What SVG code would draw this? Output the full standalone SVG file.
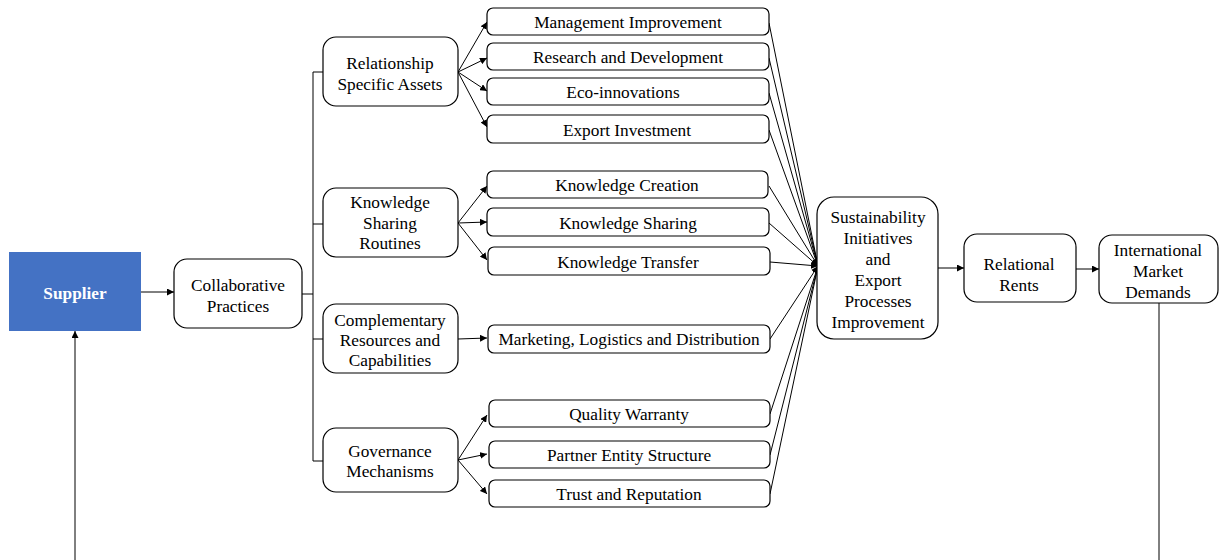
<svg xmlns="http://www.w3.org/2000/svg" width="1219" height="560" viewBox="0 0 1219 560">
  <style>
    .box { fill: #ffffff; stroke: #000000; stroke-width: 1.2; }
    .t { font-family: "Liberation Serif", "Times New Roman", serif; font-size: 17.3px; fill: #000000; text-anchor: middle; dominant-baseline: central; }
    .tw { font-family: "Liberation Serif", "Times New Roman", serif; font-size: 17.3px; font-weight: bold; fill: #ffffff; text-anchor: middle; dominant-baseline: central; }
    .ln { fill: none; stroke: #000000; stroke-width: 1; }
    .ar { fill: none; stroke: #000000; stroke-width: 1; marker-end: url(#head); }
  </style>
  <defs>
    <marker id="head" viewBox="0 0 10 10" refX="10" refY="5" markerWidth="7" markerHeight="7" markerUnits="userSpaceOnUse" orient="auto">
      <path d="M0,0 L10,5 L0,10 z" fill="#000000"/>
    </marker>
  </defs>
  <rect width="1219" height="560" fill="#ffffff"/>

  <g id="connectors">
    <!-- supplier to collaborative practices -->
    <line class="ar" x1="141" y1="292" x2="174" y2="292"/>
    <!-- trunk -->
    <path class="ln" d="M302,294 H313 M313,72 V461 M313,72 H323 M313,224 H323 M313,339 H323 M313,461 H323"/>
    <!-- relationship specific assets -->
    <line class="ar" x1="458" y1="72" x2="487" y2="22"/>
    <line class="ar" x1="458" y1="72" x2="487" y2="58"/>
    <line class="ar" x1="458" y1="72" x2="487" y2="91"/>
    <line class="ar" x1="458" y1="72" x2="487" y2="127"/>
    <!-- knowledge sharing routines -->
    <line class="ar" x1="458" y1="223" x2="487" y2="186"/>
    <line class="ar" x1="458" y1="223" x2="487" y2="222"/>
    <line class="ar" x1="458" y1="223" x2="487" y2="260"/>
    <!-- complementary resources -->
    <line class="ar" x1="458" y1="339" x2="487" y2="338"/>
    <!-- governance mechanisms -->
    <line class="ar" x1="458" y1="460" x2="487" y2="415"/>
    <line class="ar" x1="458" y1="460" x2="487" y2="454"/>
    <line class="ar" x1="458" y1="460" x2="487" y2="494"/>
    <!-- convergence on sustainability initiatives -->
    <line class="ar" x1="769" y1="23" x2="818" y2="266"/>
    <line class="ar" x1="769" y1="58" x2="818" y2="266"/>
    <line class="ar" x1="769" y1="93" x2="818" y2="266"/>
    <line class="ar" x1="769" y1="130" x2="818" y2="266"/>
    <line class="ar" x1="769" y1="186" x2="818" y2="266"/>
    <line class="ar" x1="769" y1="223" x2="818" y2="266"/>
    <line class="ar" x1="770" y1="262" x2="818" y2="266"/>
    <line class="ar" x1="770" y1="339" x2="818" y2="266"/>
    <line class="ar" x1="770" y1="414" x2="818" y2="266"/>
    <line class="ar" x1="770" y1="455" x2="818" y2="266"/>
    <line class="ar" x1="770" y1="494" x2="818" y2="266"/>
    <!-- right chain -->
    <line class="ar" x1="938" y1="268" x2="964" y2="268"/>
    <line class="ar" x1="1076" y1="269" x2="1099" y2="269"/>
    <!-- feedback loop -->
    <line class="ln" x1="1159" y1="303" x2="1159" y2="560"/>
    <line class="ar" x1="75" y1="560" x2="75" y2="331"/>
  </g>

  <g id="supplier">
    <rect x="9" y="252" width="132" height="79" fill="#4472c4"/>
    <text class="tw" x="75" y="293">Supplier</text>
  </g>

  <g id="collaborative-practices">
    <rect class="box" x="174" y="259" width="128" height="69" rx="13"/>
    <text class="t" x="238" y="285">Collaborative</text>
    <text class="t" x="238" y="306">Practices</text>
  </g>

  <g id="relationship-specific-assets">
    <rect class="box" x="323" y="37" width="135" height="69" rx="13"/>
    <text class="t" x="390" y="63">Relationship</text>
    <text class="t" x="390" y="84">Specific Assets</text>
  </g>

  <g id="knowledge-sharing-routines">
    <rect class="box" x="323" y="188" width="135" height="69" rx="13"/>
    <text class="t" x="390" y="202">Knowledge</text>
    <text class="t" x="390" y="223">Sharing</text>
    <text class="t" x="390" y="243">Routines</text>
  </g>

  <g id="complementary-resources">
    <rect class="box" x="323" y="304" width="135" height="69" rx="13"/>
    <text class="t" x="390" y="320">Complementary</text>
    <text class="t" x="390" y="340">Resources and</text>
    <text class="t" x="390" y="360">Capabilities</text>
  </g>

  <g id="governance-mechanisms">
    <rect class="box" x="323" y="428" width="135" height="64" rx="13"/>
    <text class="t" x="390" y="451">Governance</text>
    <text class="t" x="390" y="471">Mechanisms</text>
  </g>

  <g id="management-improvement">
    <rect class="box" x="487" y="8" width="282" height="27" rx="6"/>
    <text class="t" x="628" y="22">Management Improvement</text>
  </g>
  <g id="research-development">
    <rect class="box" x="487" y="43" width="282" height="27" rx="6"/>
    <text class="t" x="628" y="57">Research and Development</text>
  </g>
  <g id="eco-innovations">
    <rect class="box" x="487" y="78" width="282" height="27" rx="6"/>
    <text class="t" x="623" y="92">Eco-innovations</text>
  </g>
  <g id="export-investment">
    <rect class="box" x="487" y="115" width="282" height="28" rx="6"/>
    <text class="t" x="627" y="130">Export Investment</text>
  </g>
  <g id="knowledge-creation">
    <rect class="box" x="487" y="171" width="281" height="27" rx="6"/>
    <text class="t" x="627" y="185">Knowledge Creation</text>
  </g>
  <g id="knowledge-sharing">
    <rect class="box" x="487" y="208" width="282" height="28" rx="6"/>
    <text class="t" x="628" y="223">Knowledge Sharing</text>
  </g>
  <g id="knowledge-transfer">
    <rect class="box" x="488" y="247" width="282" height="28" rx="6"/>
    <text class="t" x="628" y="262">Knowledge Transfer</text>
  </g>
  <g id="marketing-logistics">
    <rect class="box" x="488" y="325" width="282" height="28" rx="6"/>
    <text class="t" x="629" y="339">Marketing, Logistics and Distribution</text>
  </g>
  <g id="quality-warranty">
    <rect class="box" x="489" y="400" width="281" height="27" rx="6"/>
    <text class="t" x="629" y="414">Quality Warranty</text>
  </g>
  <g id="partner-entity-structure">
    <rect class="box" x="489" y="441" width="281" height="27" rx="6"/>
    <text class="t" x="629" y="455">Partner Entity Structure</text>
  </g>
  <g id="trust-reputation">
    <rect class="box" x="489" y="480" width="281" height="27" rx="6"/>
    <text class="t" x="629" y="494">Trust and Reputation</text>
  </g>

  <g id="sustainability-initiatives">
    <rect class="box" x="817" y="197" width="121" height="142" rx="17"/>
    <text class="t" x="878" y="217">Sustainability</text>
    <text class="t" x="878" y="238">Initiatives</text>
    <text class="t" x="878" y="259">and</text>
    <text class="t" x="878" y="280">Export</text>
    <text class="t" x="878" y="301">Processes</text>
    <text class="t" x="878" y="322">Improvement</text>
  </g>

  <g id="relational-rents">
    <rect class="box" x="964" y="234" width="112" height="68" rx="13"/>
    <text class="t" x="1019" y="264">Relational</text>
    <text class="t" x="1019" y="285">Rents</text>
  </g>

  <g id="international-market-demands">
    <rect class="box" x="1099" y="235" width="119" height="68" rx="13"/>
    <text class="t" x="1158" y="250">International</text>
    <text class="t" x="1158" y="271">Market</text>
    <text class="t" x="1158" y="292">Demands</text>
  </g>
</svg>
